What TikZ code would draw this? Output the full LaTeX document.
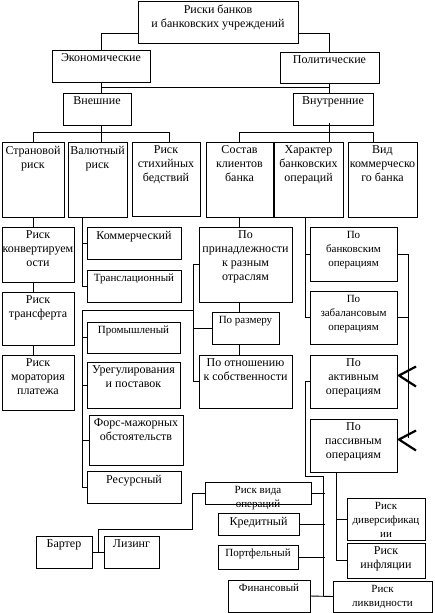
\documentclass[tikz,border=0pt]{standalone}
\usepackage{fontspec}
\setmainfont{Liberation Serif}
\usetikzlibrary{calc}

\newcommand{\bigf}{\fontsize{12}{14}\selectfont}
\newcommand{\smallf}{\fontsize{11}{14}\selectfont}

\tikzset{
  box/.style={draw, rectangle, inner sep=0pt, outer sep=0pt},
  boxtext/.style={anchor=north, align=center, inner sep=3.5pt},
  chev/.style={line width=2.2pt},
}

\begin{document}
\begin{tikzpicture}[x=1pt, y=-1pt, line width=0.9pt]
    \useasboundingbox[fill=white] (0,0) rectangle (434,613);

    % boxes: name / left / top / right / bottom / font / text
    \foreach \n/\xa/\ya/\xb/\yb/\fs/\txt in {
        top/138/1/298/43/\bigf/Риски банков\\и банковских учреждений,
        econ/52/50/150/82/\bigf/Экономические,
        polit/280/52/379/83/\bigf/Политические,
        vnesh/63/93/131/125/\bigf/Внешние,
        vnutr/293/93/373/125/\bigf/Внутренние,
        strana/2/142/64/217/\bigf/Страновой\\риск,
        valut/68/142/127/217/\bigf/Валютный\\риск,
        stih/132/142/200/216/\bigf/Риск\\стихийных\\бедствий,
        sostav/206/142/273/217/\bigf/Состав\\клиентов\\банка,
        harakt/274/142/343/217/\bigf/Характер\\банковских\\операций,
        vid/348/142/417/217/\bigf/Вид\\коммерческо\\го банка,
        konv/2/227/74/282/\bigf/Риск\\конвертируем\\ости,
        transf/2/292/74/345/\bigf/Риск\\трансферта,
        morat/2/355/74/410/\bigf/Риск\\моратория\\платежа,
        komm/87/227/181/259/\bigf/Коммерческий,
        transl/87/270/181/302/\smallf/Транслационный,
        prom/87/322/180/353/\smallf/Промышленый,
        uregul/87/362/180/408/\bigf/Урегулирования\\и поставок,
        fors/89/415/183/465/\bigf/Форс-мажорных\\обстоятельств,
        resurs/87/471/181/503/\bigf/Ресурсный,
        prinad/199/227/292/302/\bigf/По\\принадлежности\\к разным\\отраслям,
        razmer/212/312/279/344/\smallf/По размеру,
        otnosh/199/355/292/408/\bigf/По отношению\\к собственности,
        bank/310/227/397/281/\smallf/По\\банковским\\операциям,
        zabal/310/291/397/344/\smallf/По\\забалансовым\\операциям,
        aktiv/310/355/397/408/\bigf/По\\активным\\операциям,
        passiv/310/419/397/472/\bigf/По\\пассивным\\операциям,
        vida/205/482/311/504/\smallf/Риск вида\\операций,
        kredit/218/513/299/535/\bigf/Кредитный,
        portf/218/545/298/569/\smallf/Портфельный,
        finans/228/580/310/612/\smallf/Финансовый,
        divers/347/498/425/540/\smallf/Риск\\диверсификац\\ии,
        infl/347/543/425/578/\bigf/Риск\\инфляции,
        likvid/333/581/432/612/\smallf/Риск\\ликвидности,
        barter/36/536/92/568/\bigf/Бартер,
        lizing/104/536/159/568/\bigf/Лизинг}{
        \node[box, minimum width={(\xb-\xa)*1pt}, minimum height={(\yb-\ya)*1pt},
            label={[boxtext, font=\fs]north:\txt}] (\n) at ({(\xa+\xb)/2},{(\ya+\yb)/2}) {};
    }

    % upper levels
    \draw (top.west |- 0,33) -| (econ.north);
    \draw (top.east |- 0,33) -| (polit.north);
    \draw (econ.south) -- (econ.south |- vnesh.north);
    \draw (polit.south) -- (polit.south |- vnutr.north);
    \draw (econ.south |- 0,87) -- (polit.south |- 0,87);
    \draw (econ.south |- vnesh.south) -- (econ.south |- 0,132);
    \draw (polit.south |- 0,123) -- (polit.south |- harakt.north);
    \draw (strana.north) |- (169,132) -- (stih.north -| 169,0);
    \draw (econ.south |- 0,132) -- (econ.south |- valut.north);
    \draw (sostav.north) |- (373,132) -- (vid.north -| 373,0);

    % external risks
    \draw (strana.south) -- (strana.south |- konv.north);
    \draw (strana.south |- konv.south) -- (strana.south |- transf.north);
    \draw (strana.south |- transf.south) -- (strana.south |- morat.north);
    \coordinate (vx) at (82,0);
    \coordinate (bx) at (193,0);
    \draw (valut.south -| vx) |- (transl.west);
    \draw (komm.west -| vx) -- (komm.west);
    \draw (vx |- 0,310) -- (bx |- 0,310);
    \draw (vx |- 0,310) |- (resurs.west);
    \foreach \b in {prom,uregul,fors} \draw (\b.west -| vx) -- (\b.west);

    % clients
    \draw (sostav.south) -- (sostav.south |- prinad.north);
    \draw (sostav.south |- prinad.south) -- (sostav.south |- razmer.north);
    \draw (sostav.south |- razmer.south) -- (sostav.south |- otnosh.north);
    \draw (prinad.west) -| (bx |- otnosh.west) -- (otnosh.west);
    \draw (razmer.west) -- (razmer.west -| bx);

    % operations
    \coordinate (hx) at (305,0);
    \coordinate (rx) at (408,0);
    \draw (harakt.south -| hx) |- (zabal.west);
    \draw (bank.west -| hx) -- (bank.west);
    \draw (bank.east) -| ($(rx |- passiv.east)+(0,-8)$);
    \draw (zabal.east) -- (zabal.east -| rx);
    \foreach \b in {aktiv,passiv}
        \draw[chev] ($(\b.east)+(19,-15)$) -- ($(\b.east)+(2,-6)$) -- ($(\b.east)+(19,5)$);

    % bottom groups
    \coordinate (kx) at (323,0);
    \coordinate (px) at (336,0);
    \coordinate (turn) at (192,529);
    \draw (aktiv.west) -| (hx |- 0,476) -| (kx |- finans.east);
    \draw (finans.east) -- (likvid.west);
    \foreach \b in {vida,kredit,portf} \draw (\b.east) -- ($(\b.east -| kx)+(2,0)$);
    \draw (passiv.south -| px) |- (infl.west);
    \draw (divers.west -| px) -- (divers.west);
    \draw (vida.west) -| (turn) -| ($(barter.east)!.5!(lizing.west)$);
    \draw (barter.east) -- (lizing.west);
\end{tikzpicture}
\end{document}
